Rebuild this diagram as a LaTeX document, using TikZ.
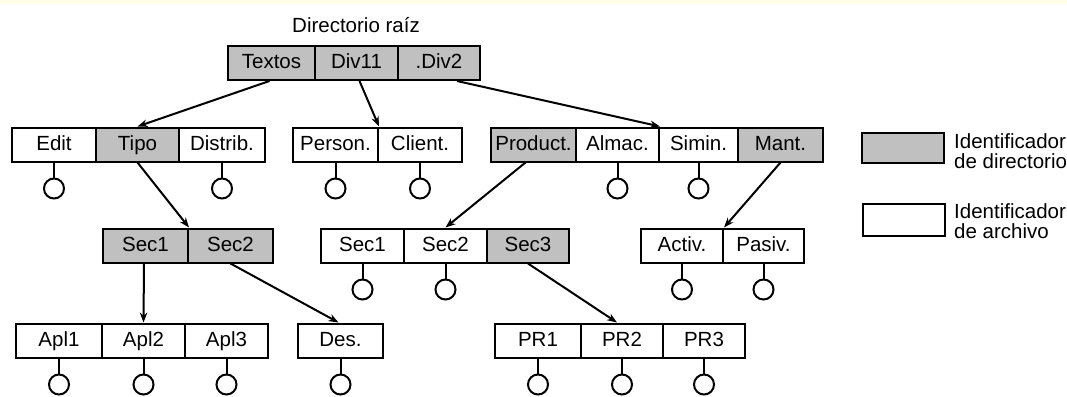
\documentclass[tikz,border=0pt]{standalone}
\usepackage{fontspec}
\setmainfont{Liberation Sans}
\usetikzlibrary{calc,arrows.meta}
\definecolor{dirgray}{RGB}{192,192,192}
\definecolor{topband}{RGB}{255,253,231}
\newcommand\cellfont{\fontsize{20.5}{24}\selectfont}
\newcommand\legfont{\fontsize{20.5}{19.5}\selectfont}
\tikzset{
  cell/.style={draw, line width=2pt, minimum height=34pt, inner sep=0pt,
    text height=15pt, text depth=4pt, font=\cellfont},
  dircell/.style={cell, fill=dirgray},
  filecell/.style={cell, fill=white},
  leaf/.style={circle, draw, line width=2pt, minimum size=20pt, inner sep=0pt, fill=white},
  stem/.style={line width=2pt},
  conn/.style={line width=2pt, -{Stealth[length=10pt,width=7.5pt]}},
  legtext/.style={anchor=west, inner sep=0pt, align=left, font=\legfont}
}
\begin{document}
\begin{tikzpicture}[x=1pt,y=-1pt]
\fill[white] (0,0) rectangle (1067,396);
\fill[topband] (0,0) rectangle (1067,4);
\useasboundingbox (0,0) rectangle (1067,396);

% title
\node[font=\cellfont, inner sep=0pt] (title) at (356,25) {Directorio raíz};

% row 1
\node[dircell, minimum width=87pt] (textos) at (271.5,63) {Textos};
\node[dircell, minimum width=83pt] (div11) at (356.5,63) {Div11};
\node[dircell, minimum width=82pt] (div2) at (439,63) {.Div2};

% row 2
\node[filecell, minimum width=84pt] (edit) at (54,144.5) {Edit};
\node[dircell, minimum width=83pt] (tipo) at (137.5,144.5) {Tipo};
\node[filecell, minimum width=86pt] (distrib) at (222,144.5) {Distrib.};
\node[filecell, minimum width=85pt] (person) at (335.5,144.5) {Person.};
\node[filecell, minimum width=84pt] (client) at (420,144.5) {Client.};
\node[dircell, minimum width=85pt] (product) at (533.5,144.5) {Product.};
\node[filecell, minimum width=83pt] (almac) at (617.5,144.5) {Almac.};
\node[filecell, minimum width=79pt] (simin) at (698.5,144.5) {Simin.};
\node[dircell, minimum width=85pt] (mant) at (780.5,144.5) {Mant.};

% row 3
\node[dircell, minimum width=85pt] (s1a) at (145.5,245.5) {Sec1};
\node[dircell, minimum width=85pt] (s2a) at (230.5,245.5) {Sec2};
\node[filecell, minimum width=83pt] (s1b) at (362.5,245.5) {Sec1};
\node[filecell, minimum width=83pt] (s2b) at (445.5,245.5) {Sec2};
\node[dircell, minimum width=82pt] (s3b) at (528,245.5) {Sec3};
\node[filecell, minimum width=82pt] (activ) at (682,245.5) {Activ.};
\node[filecell, minimum width=81pt] (pasiv) at (763.5,245.5) {Pasiv.};

% row 4
\node[filecell, minimum width=86pt] (apl1) at (59,340.5) {Apl1};
\node[filecell, minimum width=83pt] (apl2) at (143.5,340.5) {Apl2};
\node[filecell, minimum width=83pt] (apl3) at (226.5,340.5) {Apl3};
\node[filecell, minimum width=85pt] (des) at (340.5,340.5) {Des.};
\node[filecell, minimum width=86pt] (pr1) at (538,340.5) {PR1};
\node[filecell, minimum width=82pt] (pr2) at (622,340.5) {PR2};
\node[filecell, minimum width=82pt] (pr3) at (704,340.5) {PR3};

% file leaves
\foreach \n in {edit,distrib,person,client,almac,simin,s1b,s2b,activ,pasiv,apl1,apl2,apl3,des,pr1,pr2,pr3}{
  \node[leaf] (c-\n) at ($(\n.south)+(0,26)$) {};
  \draw[stem] (\n.south) -- (c-\n.north);
}

% connectors
\draw[conn] ($(textos.south)+(-2,0)$) -- (tipo.north);
\draw[conn] ($(div11.south)+(3,0)$) -- (person.north east);
\draw[conn] ($(div2.south)+(18,0)$) -- (almac.north east);
\draw[conn] (tipo.south) -- (s1a.north east);
\draw[conn] ($(product.south)+(-8,0)$) -- (s2b.north);
\draw[conn] (mant.south) -- (activ.north east);
\draw[conn] ($(s1a.south)+(-1.5,0)$) -- (apl2.north);
\draw[conn] (s2a.south) -- ($(des.north)+(-2,0)$);
\draw[conn] (s3b.south) -- ($(pr2.north)+(-5,0)$);

% legend
\node[dircell, minimum width=82pt, minimum height=30pt] (legdir) at (903,148) {};
\node[legtext] (legdirtext) at (954,151) {Identificador\\de directorio};
\node[filecell, minimum width=82pt, minimum height=32pt] (legfile) at (904,220) {};
\node[legtext] (legfiletext) at (954,221) {Identificador\\de archivo};
\end{tikzpicture}
\end{document}
